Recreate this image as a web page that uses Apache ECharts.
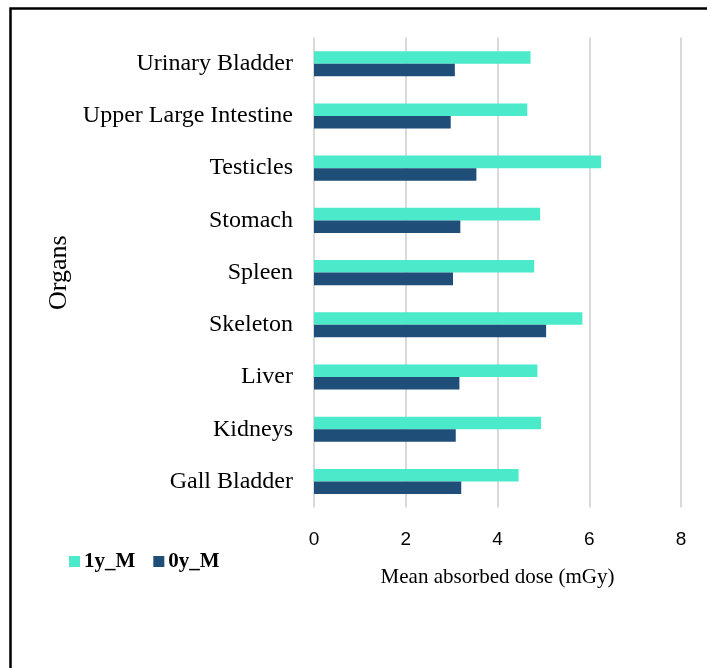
<!DOCTYPE html>
<html>
<head>
<meta charset="utf-8">
<script src="https://cdn.jsdelivr.net/npm/echarts@6/dist/echarts.min.js"></script>
<style>
  html, body { margin: 0; padding: 0; background: #ffffff; }
  #chart { width: 707px; height: 668px; }
</style>
</head>
<body>
<div id="chart"></div>
<script>
// Organs, listed from the bottom of the axis to the top
const organs = [
  'Gall Bladder', 'Kidneys', 'Liver', 'Skeleton', 'Spleen',
  'Stomach', 'Testicles', 'Upper Large Intestine', 'Urinary Bladder'
];
// Mean absorbed dose (mGy) per organ
const dose1y = [4.46, 4.95, 4.87, 5.85, 4.80, 4.93, 6.26, 4.65, 4.72];
const dose0y = [3.21, 3.09, 3.17, 5.06, 3.03, 3.19, 3.54, 2.98, 3.07];
const seriesNames = ['1y_M', '0y_M'];
const xTicks = [0, 2, 4, 6, 8];

const chart = echarts.init(document.getElementById('chart'), null, { renderer: 'canvas' });

const serif = '"Liberation Serif", "Times New Roman", serif';

chart.setOption({
  animation: false,
  backgroundColor: '#ffffff',
  graphic: [{
    type: 'rect',
    shape: { x: 10.5, y: 8.5, width: 720, height: 700 },
    style: { fill: 'none', stroke: '#000000', lineWidth: 2.5 },
    silent: true
  }],
  legend: {
    data: seriesNames,
    left: 69,
    top: 551,
    padding: 0,
    icon: 'rect',
    itemWidth: 11,
    itemHeight: 11,
    itemGap: 18,
    textStyle: { fontFamily: serif, fontWeight: 'bold', fontSize: 21, color: '#000000', padding: [0, 0, 0, -1] }
  },
  grid: { left: 314, right: 26, top: 37.6, bottom: 160.4, containLabel: false },
  xAxis: {
    type: 'value',
    min: xTicks[0],
    max: xTicks[xTicks.length - 1],
    interval: 2,
    name: 'Mean absorbed dose (mGy)',
    nameLocation: 'middle',
    nameGap: 59,
    nameTextStyle: { fontFamily: serif, fontSize: 21, color: '#000000', verticalAlign: 'top' },
    axisLine: { show: false },
    axisTick: { show: false },
    axisLabel: {
      margin: 23,
      fontFamily: '"Liberation Sans", Arial, sans-serif',
      fontSize: 19,
      color: '#000000'
    },
    splitLine: { show: true, lineStyle: { color: '#d9d9d9', width: 2 } }
  },
  yAxis: {
    type: 'category',
    data: organs,
    name: 'Organs',
    nameLocation: 'middle',
    nameGap: 234,
    nameRotate: 90,
    nameTextStyle: { fontFamily: serif, fontSize: 26, color: '#000000' },
    axisLine: { show: false },
    axisTick: { show: false },
    axisLabel: { margin: 21, fontFamily: serif, fontSize: 24, color: '#000000', padding: [5, 0, 0, 0] },
    splitLine: { show: false }
  },
  series: [
    {
      name: '1y_M',
      type: 'bar',
      data: dose1y,
      barGap: '0%',
      barCategoryGap: '52%',
      itemStyle: { color: '#4beacb' }
    },
    {
      name: '0y_M',
      type: 'bar',
      data: dose0y,
      barGap: '0%',
      barCategoryGap: '52%',
      itemStyle: { color: '#1f4e79' }
    }
  ]
});
</script>
</body>
</html>
